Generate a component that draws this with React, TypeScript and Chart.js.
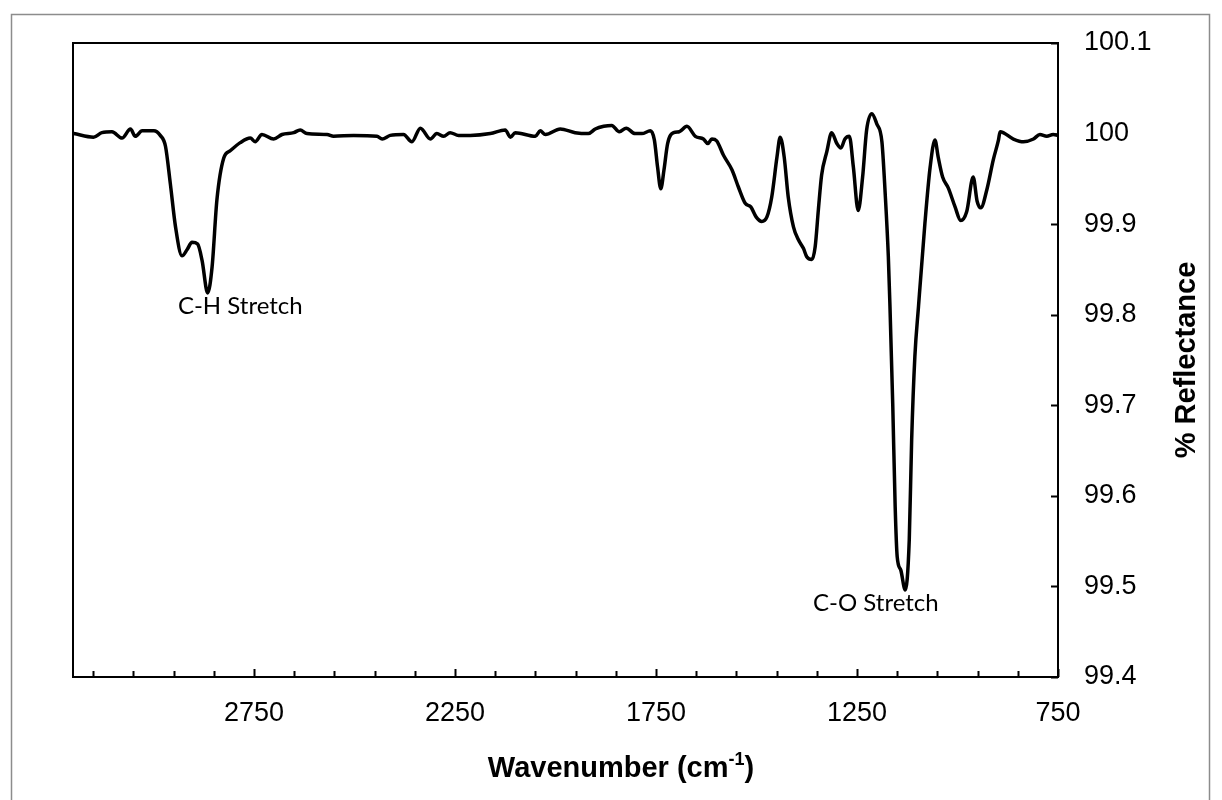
import React, { useEffect, useRef } from 'react';
import { Chart, registerables } from 'chart.js';

Chart.register(...registerables);

const wavenumber = [
  3198, 3149, 3128, 3103, 3078, 3057, 3045, 3028, 2999, 2983,
  2970, 2958, 2945, 2929, 2916, 2904, 2890, 2879, 2865, 2854,
  2842, 2825, 2809, 2784, 2759, 2747, 2730, 2701, 2680, 2651,
  2635, 2618, 2568, 2552, 2502, 2444, 2431, 2411, 2378, 2357,
  2336, 2311, 2295, 2278, 2262, 2241, 2212, 2162, 2125, 2112,
  2100, 2050, 2038, 2025, 1988, 1951, 1918, 1901, 1880, 1860,
  1841, 1824, 1802, 1785, 1764, 1754, 1746, 1738, 1730, 1721,
  1706, 1692, 1673, 1652, 1632, 1621, 1611, 1599, 1582, 1561,
  1545, 1528, 1514, 1501, 1487, 1474, 1462, 1449, 1441, 1431,
  1421, 1408, 1396, 1383, 1375, 1362, 1354, 1346, 1338, 1325,
  1313, 1300, 1290, 1280, 1269, 1259, 1247, 1236, 1226, 1213,
  1201, 1188, 1180, 1172, 1168, 1161, 1155, 1150, 1141, 1130,
  1120, 1114, 1106, 1097, 1081, 1068, 1056, 1048, 1037, 1023,
  1006, 992, 977, 961, 951, 942, 927, 911, 898, 894,
  861, 836, 811, 795, 778, 762, 750,
];

// % Reflectance at each wavenumber
const reflectance = [
  100.0, 99.996, 100.001, 100.002, 99.995, 100.005, 99.997, 100.003, 100.003, 99.998,
  99.986, 99.945, 99.897, 99.865, 99.872, 99.88, 99.878, 99.86, 99.824, 99.853,
  99.927, 99.973, 99.981, 99.99, 99.995, 99.991, 99.999, 99.994, 99.999, 100.001,
  100.004, 100.0, 99.999, 99.997, 99.998, 99.997, 99.994, 99.998, 99.999, 99.991,
  100.006, 99.994, 100.0, 99.997, 100.001, 99.998, 99.998, 100.0, 100.004, 99.996,
  100.001, 99.997, 100.003, 99.999, 100.005, 100.001, 100.0, 100.005, 100.008, 100.009,
  100.002, 100.006, 100.0, 100.0, 100.003, 99.993, 99.963, 99.939, 99.96, 99.989,
  100.001, 100.002, 100.008, 99.997, 99.994, 99.989, 99.994, 99.992, 99.976, 99.96,
  99.941, 99.923, 99.919, 99.908, 99.903, 99.908, 99.93, 99.974, 99.996, 99.974,
  99.93, 99.897, 99.883, 99.873, 99.864, 99.861, 99.875, 99.916, 99.954, 99.98,
  100.001, 99.989, 99.984, 99.994, 99.997, 99.963, 99.915, 99.952, 100.004, 100.022,
  100.011, 99.991, 99.935, 99.864, 99.81, 99.7, 99.588, 99.533, 99.518, 99.496,
  99.551, 99.662, 99.754, 99.809, 99.901, 99.963, 99.993, 99.974, 99.952, 99.94,
  99.919, 99.904, 99.914, 99.952, 99.925, 99.918, 99.938, 99.971, 99.993, 100.002,
  99.994, 99.991, 99.994, 99.999, 99.997, 99.999, 99.998,
];

const xMajorTicks = [2750, 2250, 1750, 1250, 750];
const xMinorTicks = [
  3150, 3050, 2950, 2850, 2650, 2550, 2450, 2350, 2150, 2050,
  1950, 1850, 1650, 1550, 1450, 1350, 1150, 1050, 950, 850,
];
const yTicks = [99.4, 99.5, 99.6, 99.7, 99.8, 99.9, 100.0, 100.1];

const annotationLabels = ['C-H Stretch', 'C-O Stretch'];
const annotationX = [2784, 1203];
const annotationY = [99.809, 99.481];

const xTitleMain = 'Wavenumber (cm';
const xTitleSup = '-1';
const xTitleEnd = ')';
const yTitle = '% Reflectance';

const FONT = "Arial, 'Liberation Sans', sans-serif";
const NOTE_FONT = "Lato, 'Open Sans', sans-serif";

const decorPlugin = {
  id: 'decor',
  beforeDraw(chart: any) {
    const { ctx, width, height } = chart;
    ctx.save();
    ctx.fillStyle = '#ffffff';
    ctx.fillRect(0, 0, width, height);
    ctx.strokeStyle = '#8c8c8c';
    ctx.lineWidth = 1.5;
    ctx.strokeRect(11.5, 14.5, 1198, 800);
    ctx.restore();
  },
  afterDraw(chart: any) {
    const { ctx, chartArea } = chart;
    const xs = chart.scales.x;
    const ys = chart.scales.y;
    const { left, right, top, bottom } = chartArea;
    ctx.save();
    // plot frame
    ctx.strokeStyle = '#000';
    ctx.lineWidth = 2;
    ctx.strokeRect(left, top, right - left, bottom - top);
    // inward tick marks
    ctx.beginPath();
    xMajorTicks.forEach((v) => {
      const p = Math.round(xs.getPixelForValue(v)) + 0.5;
      ctx.moveTo(p, bottom);
      ctx.lineTo(p, bottom - 8);
    });
    xMinorTicks.forEach((v) => {
      const p = Math.round(xs.getPixelForValue(v)) + 0.5;
      ctx.moveTo(p, bottom);
      ctx.lineTo(p, bottom - 6);
    });
    yTicks.forEach((v) => {
      const p = Math.round(ys.getPixelForValue(v)) + 0.5;
      ctx.moveTo(right, p);
      ctx.lineTo(right - 7, p);
    });
    ctx.stroke();

    // annotations
    ctx.fillStyle = '#000';
    ctx.font = `24px ${NOTE_FONT}`;
    ctx.textAlign = 'center';
    ctx.textBaseline = 'middle';
    annotationLabels.forEach((t, i) => {
      ctx.fillText(t, xs.getPixelForValue(annotationX[i]), ys.getPixelForValue(annotationY[i]));
    });

    // x axis title with superscript
    const big = `bold 29px ${FONT}`;
    const small = `bold 18px ${FONT}`;
    ctx.font = big;
    const w1 = ctx.measureText(xTitleMain).width;
    const w3 = ctx.measureText(xTitleEnd).width;
    ctx.font = small;
    const w2 = ctx.measureText(xTitleSup).width;
    const total = w1 + w2 + w3;
    const cx = 621;
    const cy = 777;
    let x0 = cx - total / 2;
    ctx.textAlign = 'left';
    ctx.textBaseline = 'alphabetic';
    ctx.font = big;
    ctx.fillText(xTitleMain, x0, cy);
    x0 += w1;
    ctx.font = small;
    ctx.fillText(xTitleSup, x0, cy - 12);
    x0 += w2;
    ctx.font = big;
    ctx.fillText(xTitleEnd, x0, cy);

    // y axis title, reading bottom to top
    ctx.save();
    ctx.translate(1187, (top + bottom) / 2);
    ctx.rotate(-Math.PI / 2);
    ctx.textAlign = 'center';
    ctx.textBaseline = 'middle';
    ctx.font = `bold 29px ${FONT}`;
    ctx.fillText(yTitle, 0, 0);
    ctx.restore();

    ctx.restore();
  },
};

export default function App() {
  const ref = useRef<HTMLCanvasElement | null>(null);

  useEffect(() => {
    if (!ref.current) return;
    const points = wavenumber.map((w, i) => ({ x: w, y: reflectance[i] }));
    const chart = new Chart(ref.current, {
      type: 'line',
      data: {
        datasets: [
          {
            data: points,
            borderColor: '#000',
            borderWidth: 3.5,
            pointRadius: 0,
            fill: false,
            cubicInterpolationMode: 'monotone',
          },
        ],
      },
      options: {
        animation: false,
        responsive: false,
        devicePixelRatio: 1,
        layout: { padding: { left: 73, top: 43, right: 0, bottom: 0 } },
        plugins: { legend: { display: false }, tooltip: { enabled: false } },
        scales: {
          x: {
            type: 'linear',
            reverse: true,
            min: 750,
            max: 3200,
            position: 'bottom',
            afterBuildTicks: (s: any) => {
              s.ticks = xMajorTicks.map((v) => ({ value: v }));
            },
            afterFit: (s: any) => {
              s.height = 123;
            },
            grid: { display: false, drawTicks: false },
            border: { display: false },
            ticks: {
              font: { family: FONT, size: 27 },
              color: '#000',
              padding: 20,
              maxRotation: 0,
              autoSkip: false,
              callback: (v: any) => String(v),
            },
          },
          y: {
            type: 'linear',
            position: 'right',
            min: 99.4,
            max: 100.1,
            afterBuildTicks: (s: any) => {
              s.ticks = yTicks.map((v) => ({ value: v }));
            },
            afterFit: (s: any) => {
              s.width = 164;
            },
            grid: { display: false, drawTicks: false },
            border: { display: false },
            ticks: {
              font: { family: FONT, size: 27 },
              color: '#000',
              padding: 26,
              crossAlign: 'near',
              callback: (v: any) => String(Number(Number(v).toFixed(1))),
            },
          },
        },
      },
      plugins: [decorPlugin],
    } as any);
    return () => chart.destroy();
  }, []);

  return (
    <div style={{ position: 'fixed', left: 0, top: 0, width: 1222, height: 800, background: '#fff' }}>
      <canvas ref={ref} width={1222} height={800} style={{ display: 'block', width: 1222, height: 800 }} />
    </div>
  );
}
